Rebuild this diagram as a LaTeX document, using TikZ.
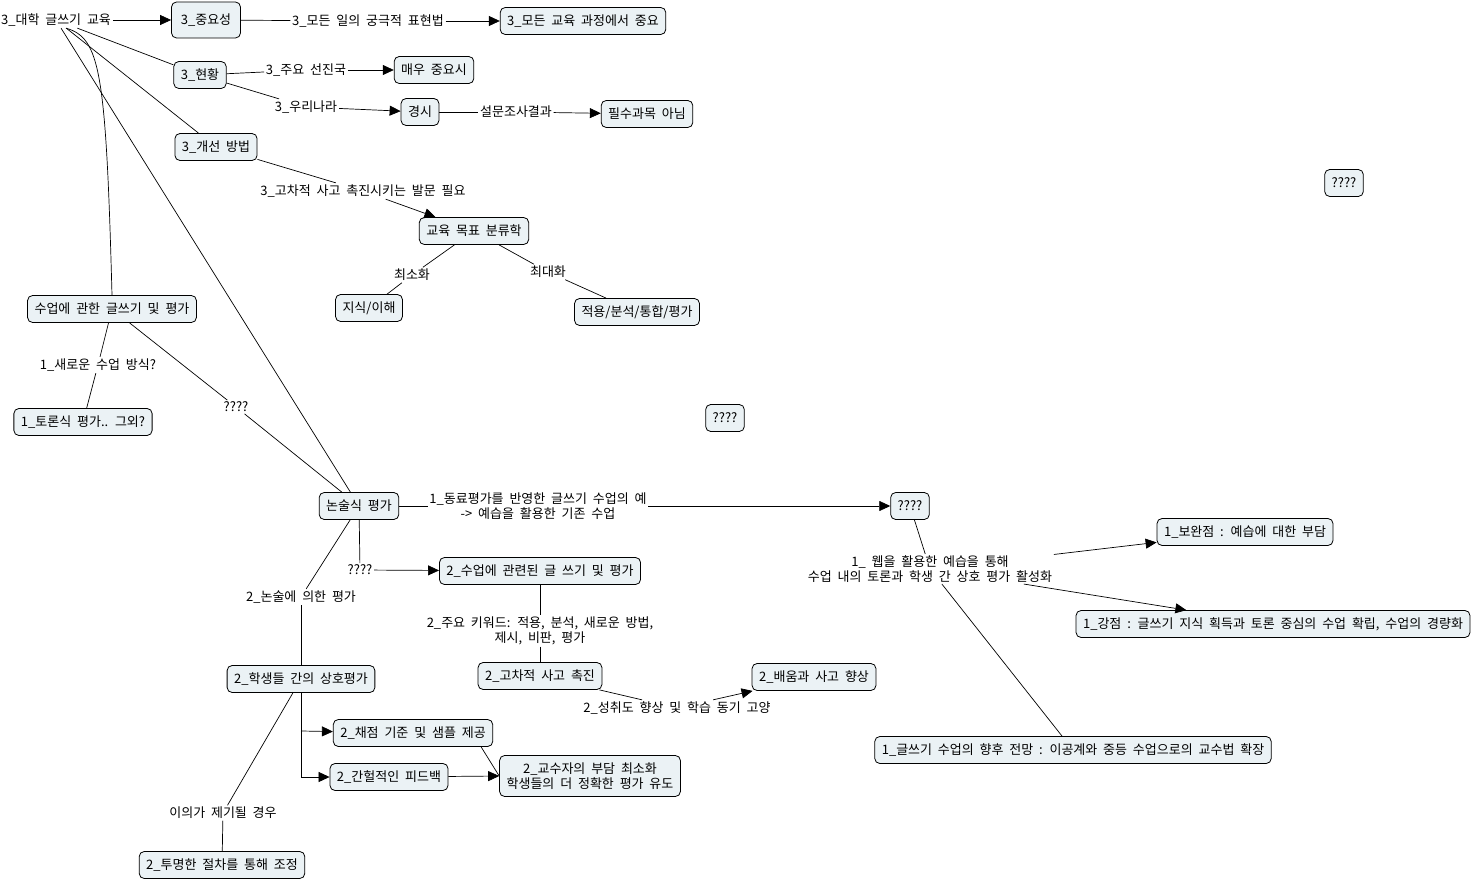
\documentclass[tikz,border=0pt]{standalone}
\usepackage{fontspec}
\setmainfont[WordSpace=2]{Noto Sans CJK KR}
\usetikzlibrary{arrows.meta}
\definecolor{cmapfill}{RGB}{235,242,245}
\tikzset{
  concept/.style={draw,rounded corners=5pt,fill=cmapfill,inner xsep=7pt,
    inner ysep=2pt,minimum height=27pt,align=center,line width=0.8pt},
  linkword/.style={inner sep=1.5pt,align=center},
  arr/.style={-{Triangle[length=11pt,width=10pt]}},
}
\begin{document}
\begin{tikzpicture}[x=1pt,y=-1pt,line width=0.7pt,
  font=\fontsize{13}{14.5}\selectfont]
\useasboundingbox (0,0) rectangle (1474,882);
\node[linkword] (root) at (56,20) {3\_대학 글쓰기 교육};
\node[concept,minimum width=69pt,minimum height=36pt] (imp) at (206,20) {3\_중요성};
\node[concept] (allcourse) at (583,21) {3\_모든 교육 과정에서 중요};
\node[concept] (stat) at (200,75) {3\_현황};
\node[concept] (advanced) at (434,70) {매우 중요시};
\node[concept] (neglect) at (420,112) {경시};
\node[concept] (notreq) at (647,114) {필수과목 아님};
\node[concept] (improve) at (216,147) {3\_개선 방법};
\node[concept] (taxo) at (474,231) {교육 목표 분류학};
\node[concept] (knowledge) at (369,308) {지식/이해};
\node[concept] (apply) at (637,312) {적용/분석/통합/평가};
\node[concept] (sup) at (112,309) {수업에 관한 글쓰기 및 평가};
\node[concept] (debate) at (83,422) {1\_토론식 평가.. 그외?};
\node[concept] (nonsul) at (359,506) {논술식 평가};
\node[concept] (qmid) at (725,418) {????};
\node[concept] (qright) at (1344,183) {????};
\node[concept] (qpeer) at (910,506) {????};
\node[concept] (related) at (540,571) {2\_수업에 관련된 글 쓰기 및 평가};
\node[concept] (higher) at (540,676) {2\_고차적 사고 촉진};
\node[concept] (learn) at (814,677) {2\_배움과 사고 향상};
\node[concept] (peer) at (301,679) {2\_학생들 간의 상호평가};
\node[concept] (grading) at (413,733) {2\_채점 기준 및 샘플 제공};
\node[concept] (feedback) at (389,777) {2\_간헐적인 피드백};
\node[concept,minimum height=41pt] (teacher) at (590,776) {2\_교수자의 부담 최소화\\학생들의 더 정확한 평가 유도};
\node[concept] (transparent) at (222,865) {2\_투명한 절차를 통해 조정};
\node[concept] (supplement) at (1245,532) {1\_보완점 : 예습에 대한 부담};
\node[concept] (strength) at (1273,624) {1\_강점 : 글쓰기 지식 획득과 토론 중심의 수업 확립, 수업의 경량화};
\node[concept] (future) at (1073,750) {1\_글쓰기 수업의 향후 전망 : 이공계와 중등 수업으로의 교수법 확장};
\node[linkword] (l_express) at (368,21) {3\_모든 일의 궁극적 표현법};
\node[linkword] (l_major) at (306,70) {3\_주요 선진국};
\node[linkword] (l_korea) at (306,107) {3\_우리나라};
\node[linkword] (l_survey) at (516,112) {설문조사결과};
\node[linkword] (l_question) at (363,191) {3\_고차적 사고 촉진시키는 발문 필요};
\node[linkword] (l_min) at (412,275) {최소화};
\node[linkword] (l_max) at (548,272) {최대화};
\node[linkword] (l_newway) at (98,365) {1\_새로운 수업 방식?};
\node[linkword] (l_q1) at (236,407) {????};
\node[linkword] (l_example) at (538,506) {1\_동료평가를 반영한 글쓰기 수업의 예\\-> 예습을 활용한 기존 수업};
\node[linkword] (l_web) at (930,569) {1\_ 웹을 활용한 예습을 통해\\수업 내의 토론과 학생 간 상호 평가 활성화};
\node[linkword] (l_q2) at (360,570) {????};
\node[linkword] (l_keyword) at (540,631) {2\_주요 키워드: 적용, 분석, 새로운 방법,\\제시, 비판, 평가};
\node[linkword] (l_achieve) at (677,708) {2\_성취도 향상 및 학습 동기 고양};
\node[linkword] (l_essay) at (301,597) {2\_논술에 의한 평가};
\node[linkword] (l_dispute) at (223,813) {이의가 제기될 경우};
\coordinate (fork1) at (301,731);
\coordinate (fork2) at (301,777);
\draw[arr] (root) -- (imp);
\draw (imp) -- (l_express);
\draw[arr] (l_express) -- (allcourse);
\draw (root) -- (stat);
\draw (root) -- (improve);
\draw (root) -- (nonsul);
\draw ([xshift=10pt]root.south) .. controls (100,38) and (106,70) .. (sup.north);
\draw (stat) -- (l_major);
\draw[arr] (l_major) -- (advanced);
\draw (stat) -- (l_korea);
\draw[arr] (l_korea) -- (neglect);
\draw (neglect) -- (l_survey);
\draw[arr] (l_survey) -- (notreq);
\draw (improve) -- (l_question);
\draw[arr] (l_question) -- (taxo);
\draw (taxo) -- (l_min);
\draw (l_min) -- (knowledge);
\draw (taxo) -- (l_max);
\draw (l_max) -- (apply);
\draw (sup) -- (l_newway);
\draw (l_newway) -- (debate);
\draw (sup) -- (l_q1);
\draw (l_q1) -- (nonsul);
\draw (nonsul) -- (l_example);
\draw[arr] (l_example) -- (qpeer);
\draw (qpeer) -- (l_web);
\draw[arr] (l_web) -- (supplement);
\draw[arr] (l_web) -- (strength);
\draw (l_web) -- (future);
\draw (nonsul) -- (l_q2);
\draw[arr] (l_q2) -- (related);
\draw (related) -- (l_keyword);
\draw (l_keyword) -- (higher);
\draw (higher) -- (l_achieve);
\draw[arr] (l_achieve) -- (learn);
\draw (nonsul) -- (l_essay);
\draw (l_essay) -- (peer);
\draw (peer) -- (fork2);
\draw[arr] (fork1) -- (grading);
\draw[arr] (fork2) -- (feedback);
\draw ([xshift=-12pt]grading.south east) -- (teacher.west);
\draw[arr] (feedback) -- (teacher.west);
\draw (peer) -- (l_dispute);
\draw (l_dispute) -- (transparent);
\end{tikzpicture}
\end{document}
